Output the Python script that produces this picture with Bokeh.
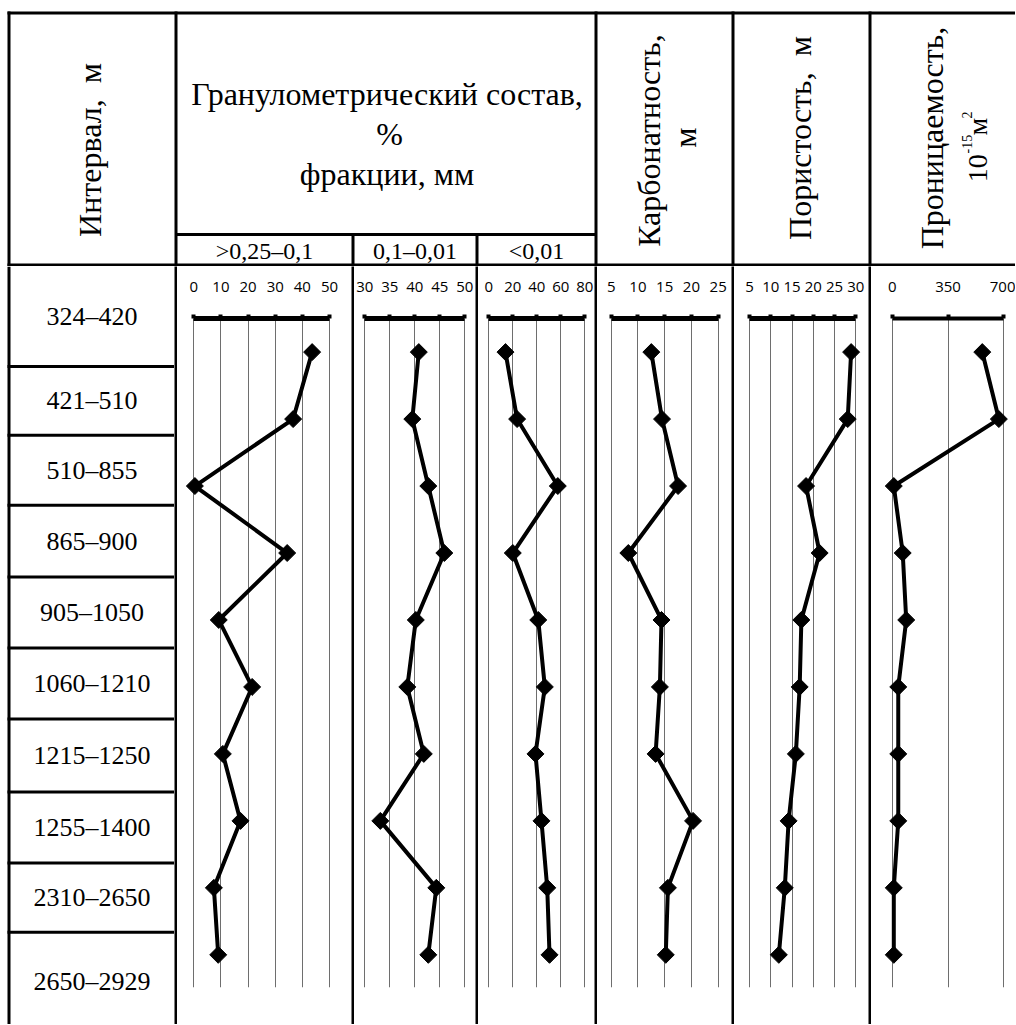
import numpy as np
from bokeh.plotting import figure
from bokeh.layouts import row, column
from bokeh.models import Range1d, FixedTicker
from bokeh.embed import file_html
from bokeh.resources import INLINE
from bokeh.core.properties import value

# ---------------- data ----------------
intervals = ["324–420", "421–510", "510–855", "865–900", "905–1050",
             "1060–1210", "1215–1250", "1255–1400", "2310–2650", "2650–2929"]
frac_025_01 = [43.6, 36.6, 0.4, 34.4, 9.2, 21.5, 10.7, 17.2, 7.4, 9.0]
frac_01_001 = [40.8, 39.5, 42.7, 45.9, 40.2, 38.5, 41.8, 33.1, 44.3, 42.7]
frac_lt_001 = [13.9, 23.6, 57.5, 20.0, 41.2, 46.7, 38.9, 43.9, 48.7, 50.6]
carbonate = [12.5, 14.5, 17.5, 8.2, 14.4, 14.1, 13.3, 20.3, 15.6, 15.2]
porosity = [28.9, 28.1, 18.3, 21.5, 17.2, 16.8, 15.9, 14.2, 13.3, 11.9]
permeability = [565, 669, 10, 66, 88, 38, 38, 38, 10, 10]

ticks_frac1 = [0, 10, 20, 30, 40, 50]
ticks_frac2 = [30, 35, 40, 45, 50]
ticks_frac3 = [0, 20, 40, 60, 80]
ticks_carb = [5, 10, 15, 20, 25]
ticks_por = [5, 10, 15, 20, 25, 30]
ticks_perm = [0, 350, 700]

header_interval = "Интервал,\u00a0 м"
header_gran = ["Гранулометрический состав,", "%", "фракции, мм"]
header_fracs = [">0,25–0,1", "0,1–0,01", "<0,01"]
header_carb = ["Карбонатность,", "м"]
header_por = "Пористость,\u00a0 м"
header_perm = "Проницаемость,"

# ---------------- layout constants (page pixels) ----------------
LEFT, RIGHT = 0, 1015
TOP = 0
HDR_BOTTOM = 266
ROW_BOTTOM = 1024
ROW_H = ROW_BOTTOM - HDR_BOTTOM
FRAME_TOP = 318
FRAME_BOTTOM = 987
PT0_Y = 351.6
PT_DY = 66.97
LW = 3
SERIF = "Liberation Serif"
SANS = "Open Sans"

# panel frames (left, right) and pixel positions of first/last tick
PANELS = [
    (frac_025_01, ticks_frac1, (177, 351), (193.3, 329.0), 5),
    (frac_01_001, ticks_frac2, (354, 475), (364.3, 464.3), 5),
    (frac_lt_001, ticks_frac3, (478, 594), (488.3, 584.3), 5),
    (carbonate, ticks_carb, (597, 731), (610.7, 717.7), 5),
    (porosity, ticks_por, (734, 868), (749.0, 855.3), 5),
    (permeability, ticks_perm, (871, 1015), (891.7, 1003.3), 4),
]
DIVIDERS = [175.5, 352.5, 476.5, 595.5, 732.5, 869.5]
LEFT_BORDER = 8.5

ROW_LINES = [265.5, 366, 434.7, 504.7, 576.6, 647.5, 718.4, 791.4, 862.5, 931.8, 1030]


def no_align(f):
    if "frame_align" in f.properties():
        f.frame_align = False
    return f


def blank(width, height, xr, yr):
    f = figure(width=width, height=height, x_range=xr, y_range=yr,
               toolbar_location=None, output_backend="svg", min_border=0,
               x_axis_location=None, y_axis_location=None,
               outline_line_color=None)
    f.grid.visible = False
    return no_align(f)


# ---------------- header ----------------
hdr = blank(RIGHT - LEFT, HDR_BOTTOM - TOP, Range1d(LEFT, RIGHT), Range1d(HDR_BOTTOM, TOP))
x0s, y0s, x1s, y1s = [], [], [], []
for yy in (12.5, 264.5):
    x0s.append(LEFT_BORDER - 1.5); x1s.append(RIGHT); y0s.append(yy); y1s.append(yy)
for xx in [LEFT_BORDER, DIVIDERS[0], DIVIDERS[3], DIVIDERS[4], DIVIDERS[5]]:
    x0s.append(xx); x1s.append(xx); y0s.append(11); y1s.append(HDR_BOTTOM)
x0s.append(DIVIDERS[0]); x1s.append(DIVIDERS[3]); y0s.append(234); y1s.append(234)
for xx in DIVIDERS[1:3]:
    x0s.append(xx); x1s.append(xx); y0s.append(234); y1s.append(HDR_BOTTOM)
hdr.segment(x0=x0s, y0=y0s, x1=x1s, y1=y1s, line_color="black", line_width=LW)

rot = np.pi / 2
hdr.text(x=[89], y=[149.5], text=[header_interval], angle=rot,
         text_font=value(SERIF), text_font_size="32px", text_align="center",
         text_baseline="middle", text_color="black")
hdr.text(x=[386.5, 389, 386.5], y=[93, 133, 173], text=header_gran,
         text_font=value(SERIF), text_font_size="32px", text_align="center",
         text_baseline="alphabetic", text_color="black")
hdr.text(x=[264, 414.5, 536], y=[250, 250, 250], text=header_fracs,
         text_font=value(SERIF), text_font_size="24px", text_align="center",
         text_baseline="middle", text_color="black")
hdr.text(x=[648.5, 684.5], y=[140, 137], text=header_carb, angle=rot,
         text_font=value(SERIF), text_font_size="32px", text_align="center",
         text_baseline="middle", text_color="black")
hdr.text(x=[799], y=[137.5], text=[header_por], angle=rot,
         text_font=value(SERIF), text_font_size="32px", text_align="center",
         text_baseline="middle", text_color="black")
hdr.text(x=[931.7], y=[137.5], text=[header_perm], angle=rot,
         text_font=value(SERIF), text_font_size="32px", text_align="center",
         text_baseline="middle", text_color="black")
# 10^-15 м^2
hdr.text(x=[977, 977], y=[181.7, 135], text=["10", "м"], angle=rot,
         text_font=value(SERIF), text_font_size="28px", text_align="left",
         text_baseline="alphabetic", text_color="black")
hdr.text(x=[966, 966], y=[153, 118], text=["-15", "2"], angle=rot,
         text_font=value(SERIF), text_font_size="14px", text_align="left",
         text_baseline="alphabetic", text_color="black")

# ---------------- interval labels column ----------------
lab_right = DIVIDERS[0] - 1.5
lab = blank(int(lab_right - LEFT), ROW_H,
            Range1d(LEFT, lab_right), Range1d(ROW_BOTTOM, HDR_BOTTOM))
lab.segment(x0=[LEFT_BORDER], y0=[HDR_BOTTOM], x1=[LEFT_BORDER], y1=[ROW_BOTTOM],
            line_color="black", line_width=LW)
inner = ROW_LINES[1:-1]
lab.segment(x0=[LEFT_BORDER - 1.5] * len(inner), y0=inner,
            x1=[lab_right] * len(inner), y1=inner,
            line_color="black", line_width=LW)
centers = [(a + b) / 2 for a, b in zip(ROW_LINES[:-1], ROW_LINES[1:])]
lab.text(x=[91.5] * len(intervals), y=centers, text=intervals,
         text_font=value(SERIF), text_font_size="26px", text_align="center",
         text_baseline="middle", text_color="black")


def divider():
    d = figure(width=LW, height=ROW_H, x_range=Range1d(0, 1), y_range=Range1d(0, 1),
               toolbar_location=None, output_backend="svg", min_border=0,
               x_axis_location=None, y_axis_location=None,
               background_fill_color="black", border_fill_color="black",
               outline_line_color=None)
    d.grid.visible = False
    return no_align(d)


idx = list(range(len(intervals)))
y_start = (FRAME_BOTTOM - PT0_Y) / PT_DY
y_end = (FRAME_TOP - PT0_Y) / PT_DY


def panel(vals, ticks, frame, tickpx, axis_w):
    left, right = frame
    lo, hi = ticks[0], ticks[-1]
    scale = (tickpx[1] - tickpx[0]) / (hi - lo)
    xs = lo - (tickpx[0] - left) / scale
    xe = hi + (right - tickpx[1]) / scale
    p = figure(width=right - left, height=ROW_H,
               x_range=Range1d(xs, xe), y_range=Range1d(y_start, y_end),
               toolbar_location=None, output_backend="svg",
               x_axis_location="above", y_axis_location=None,
               min_border_left=0, min_border_right=0,
               min_border_top=FRAME_TOP - HDR_BOTTOM,
               min_border_bottom=ROW_BOTTOM - FRAME_BOTTOM,
               outline_line_color=None)
    ax = p.xaxis[0]
    ax.ticker = FixedTicker(ticks=ticks)
    ax.bounds = (lo, hi)
    ax.axis_line_width = axis_w
    ax.axis_line_color = "black"
    ax.major_tick_in = 0
    ax.major_tick_out = 4
    ax.major_tick_line_width = 4
    ax.major_tick_line_color = "black"
    ax.minor_tick_line_color = None
    ax.major_label_text_font = SANS
    ax.major_label_text_font_size = "15px"
    ax.major_label_text_color = "black"
    ax.major_label_standoff = 23
    p.ygrid.visible = False
    p.xgrid.grid_line_color = "#6e6e6e"
    p.xgrid.grid_line_width = 1
    p.line(x=vals, y=idx, line_color="black", line_width=4)
    p.scatter(x=vals, y=idx, marker="square", angle=np.pi / 4, size=12,
              fill_color="black", line_color="black")
    return p


children = [lab]
for vals, ticks, frame, tickpx, aw in PANELS:
    children.append(divider())
    children.append(panel(vals, ticks, frame, tickpx, aw))

layout = column(hdr, row(*children, spacing=0), spacing=0)

open("out.html", "w").write(file_html(layout, INLINE))
